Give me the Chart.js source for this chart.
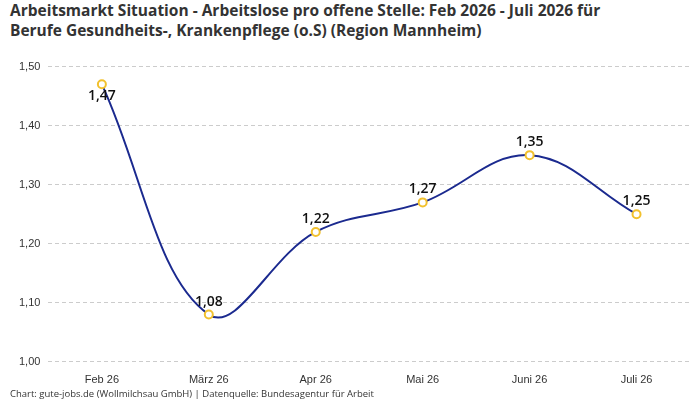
<!DOCTYPE html>
<html><head><meta charset="utf-8">
<script src="https://cdn.jsdelivr.net/npm/chart.js@4"></script>
<style>
body{margin:0;background:#fff;font-family:"Open Sans",sans-serif;}
#wrap{position:relative;width:700px;height:400px;}
h1{position:absolute;left:10px;top:0px;margin:0;font-size:15.5px;line-height:20px;font-weight:bold;color:#333;}
#foot{position:absolute;left:10px;top:387px;font-size:9.5px;color:#333;}
#box{position:absolute;left:0;top:52px;width:700px;height:339px;}
</style></head>
<body><div id="wrap">
<h1>Arbeitsmarkt Situation - Arbeitslose pro offene Stelle: Feb 2026 - Juli 2026 für<br>Berufe Gesundheits-, Krankenpflege (o.S) (Region Mannheim)</h1>
<div id="box"><canvas id="c"></canvas></div>
<div id="foot">Chart: gute-jobs.de (Wollmilchsau GmbH) | Datenquelle: Bundesagentur für Arbeit</div>
</div>
<script>
const monate = ['Feb 26','März 26','Apr 26','Mai 26','Juni 26','Juli 26'];
const werte = [1.47, 1.08, 1.22, 1.27, 1.35, 1.25];

const fmt = v => v.toFixed(2).replace('.', ',');

const labelPlugin = {
    id: 'werteLabels',
    afterDatasetsDraw(chart) {
        const ctx = chart.ctx;
        const meta = chart.getDatasetMeta(0);
        ctx.save();
        ctx.font = '600 14px "Open Sans", sans-serif';
        ctx.fillStyle = '#111';
        ctx.textAlign = 'center';
        meta.data.forEach((pt, i) => {
            const unten = i === 0;
            ctx.textBaseline = unten ? 'top' : 'bottom';
            ctx.fillText(fmt(werte[i]), pt.x, unten ? pt.y + 5 : pt.y - 6);
        });
        ctx.restore();
    }
};

new Chart(document.getElementById('c'), {
    type: 'line',
    data: {
        labels: monate,
        datasets: [{
            data: werte,
            borderColor: '#1b2a8f',
            borderWidth: 2,
            tension: 0.38,
            pointRadius: 4,
            pointBorderWidth: 2,
            pointBackgroundColor: '#fff',
            pointBorderColor: '#f2c12e'
        }]
    },
    options: {
        responsive: true,
        maintainAspectRatio: false,
        animation: false,
        layout: { padding: { left: 11, right: 10, top: 12, bottom: 0 } },
        plugins: { legend: { display: false }, tooltip: { enabled: false } },
        scales: {
            x: {
                offset: true,
                grid: { display: false },
                border: { display: false },
                ticks: { color: '#333', font: { size: 11 }, padding: 4 }
            },
            y: {
                min: 1.0, max: 1.5,
                ticks: { stepSize: 0.1, color: '#333', font: { size: 11 }, callback: v => fmt(v), padding: 8 },
                grid: { color: '#ccc', drawTicks: false },
                border: { display: false, dash: [4, 3] }
            }
        }
    },
    plugins: [labelPlugin]
});
</script>
</body></html>
